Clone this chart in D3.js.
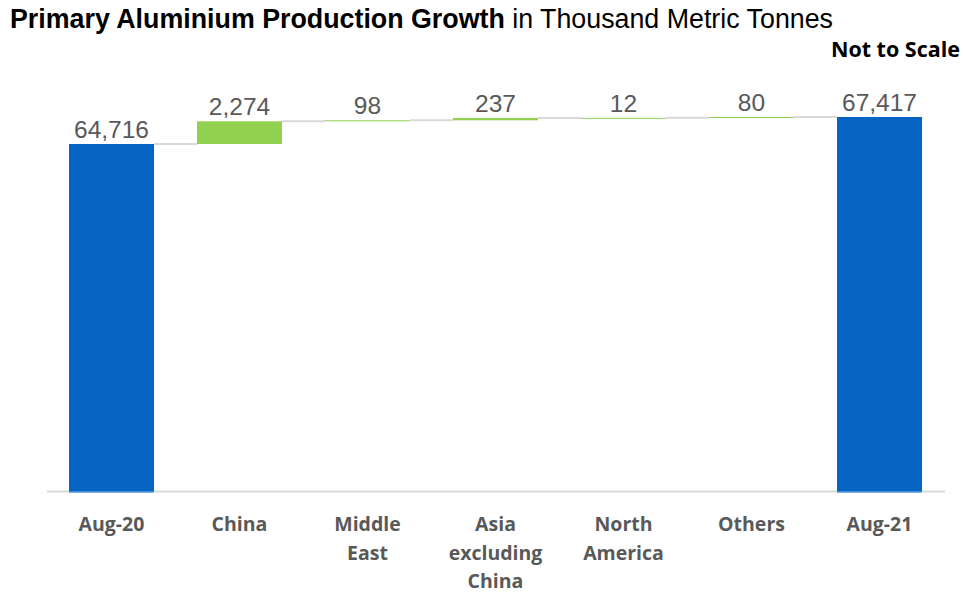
<!DOCTYPE html>
<html>
<head>
<meta charset="utf-8">
<script src="https://cdn.jsdelivr.net/npm/d3@7"></script>
<style>
  body { margin: 0; background: #fff; }
  svg { display: block; }
</style>
</head>
<body>
<script>
// chart data
var categories = ["Aug-20", "China", "Middle East", "Asia excluding China", "North America", "Others", "Aug-21"];
var catLines = [["Aug-20"], ["China"], ["Middle", "East"], ["Asia", "excluding", "China"], ["North", "America"], ["Others"], ["Aug-21"]];
var values = [64716, 2274, 98, 237, 12, 80, 67417];
var kinds = ["total", "delta", "delta", "delta", "delta", "delta", "total"];

var width = 963, height = 593;
var baseY = 492;

var svg = d3.select("body").append("svg")
    .attr("width", width)
    .attr("height", height);

// build waterfall steps
var run = 0;
var steps = categories.map(function(c, i) {
  var s;
  if (kinds[i] == "total") { s = {y0: 0, y1: values[i]}; run = values[i]; }
  else { s = {y0: run, y1: run + values[i]}; run += values[i]; }
  s.cat = c; s.value = values[i]; s.kind = kinds[i]; s.lines = catLines[i];
  return s;
});

var x = d3.scaleBand()
    .domain(categories)
    .range([47.5, 943.5])
    .paddingInner(0.336)
    .paddingOuter(0.168);

// not to scale: the axis is broken above the first total
var y = d3.scaleLinear()
    .domain([0, values[0], values[6]])
    .range([baseY, 144, 117]);

// title
var title = svg.append("text")
    .attr("x", 10).attr("y", 28)
    .style("font-family", "Liberation Sans, Arial, sans-serif")
    .style("font-size", "26.8px")
    .style("fill", "#000");
title.append("tspan").style("font-weight", "bold").text("Primary Aluminium Production Growth");
title.append("tspan").text(" in Thousand Metric Tonnes");

svg.append("text")
    .attr("x", 960).attr("y", 57)
    .attr("text-anchor", "end")
    .style("font-family", "'Open Sans', Lato, sans-serif")
    .style("font-weight", "bold")
    .style("font-size", "21.5px")
    .style("fill", "#000")
    .text("Not to Scale");

// axis line
svg.append("line")
    .attr("x1", 47).attr("x2", 945)
    .attr("y1", baseY - 0.5).attr("y2", baseY - 0.5)
    .style("stroke", "#d9d9d9")
    .style("stroke-width", 2);

// connectors
steps.forEach(function(d, i) {
  if (i == steps.length - 1) return;
  svg.append("line")
      .attr("x1", x(d.cat) + x.bandwidth())
      .attr("x2", x(steps[i + 1].cat))
      .attr("y1", y(d.y1))
      .attr("y2", y(d.y1))
      .style("stroke", "#d9d9d9")
      .style("stroke-width", 2);
});

// bars
svg.selectAll(".bar")
    .data(steps)
  .enter().append("rect")
    .attr("class", "bar")
    .attr("x", function(d) { return x(d.cat); })
    .attr("width", x.bandwidth())
    .attr("y", function(d) { return y(d.y1); })
    .attr("height", function(d) { return Math.max(1, y(d.y0) - y(d.y1)); })
    .style("fill", function(d) { return d.kind == "total" ? "#0563c1" : "#92d050"; });

// light edge at the bottom of the total bars
svg.selectAll(".edge")
    .data(steps.filter(function(d) { return d.kind == "total"; }))
  .enter().append("line")
    .attr("x1", function(d) { return x(d.cat); })
    .attr("x2", function(d) { return x(d.cat) + x.bandwidth(); })
    .attr("y1", baseY).attr("y2", baseY)
    .style("stroke", "#5b9be0")
    .style("stroke-width", 1.5);

// value labels
svg.selectAll(".val")
    .data(steps)
  .enter().append("text")
    .attr("class", "val")
    .attr("x", function(d) { return x(d.cat) + x.bandwidth() / 2; })
    .attr("y", function(d) { return y(d.y1) - 6; })
    .attr("text-anchor", "middle")
    .style("font-family", "Liberation Sans, Arial, sans-serif")
    .style("font-size", "24.5px")
    .style("fill", "#595959")
    .text(function(d) { return d3.format(",")(d.value); });

// category labels
var cl = svg.selectAll(".cat")
    .data(steps)
  .enter().append("text")
    .attr("class", "cat")
    .attr("x", function(d) { return x(d.cat) + x.bandwidth() / 2; })
    .attr("y", 531)
    .attr("text-anchor", "middle")
    .style("font-family", "'Open Sans', Lato, sans-serif")
    .style("font-weight", "bold")
    .style("font-size", "19.5px")
    .style("fill", "#595959");
cl.selectAll("tspan")
    .data(function(d) { return d.lines.map(function(l) { return {l: l, cx: x(d.cat) + x.bandwidth() / 2}; }); })
  .enter().append("tspan")
    .attr("x", function(t) { return t.cx; })
    .attr("dy", function(t, i) { return i == 0 ? 0 : 28.5; })
    .text(function(t) { return t.l; });
</script>
</body>
</html>
